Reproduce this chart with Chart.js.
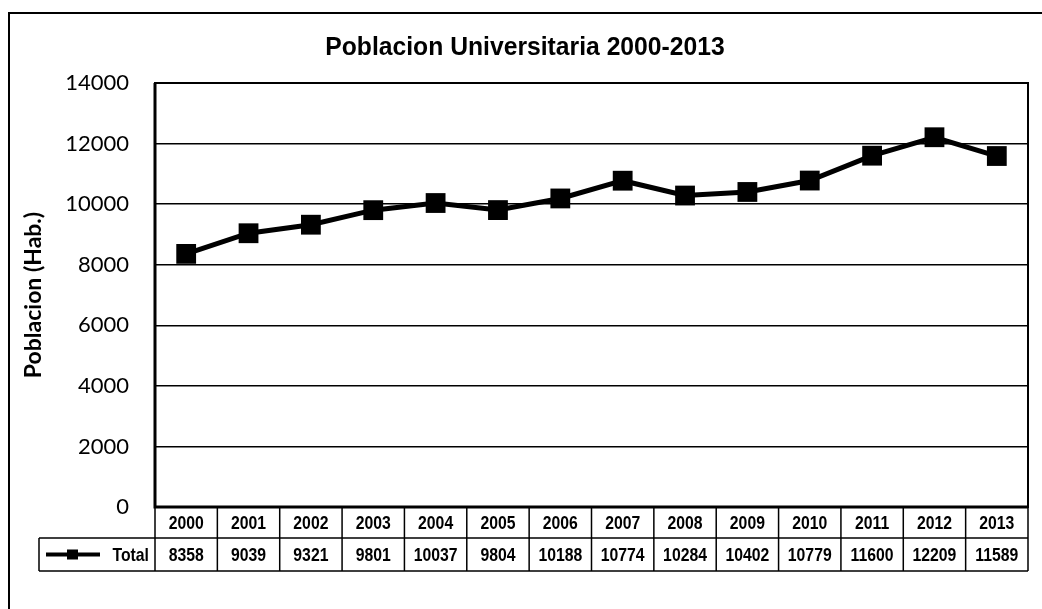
<!DOCTYPE html>
<html>
<head>
<meta charset="utf-8">
<title>Poblacion Universitaria 2000-2013</title>
<script src="https://cdn.jsdelivr.net/npm/chart.js@4/dist/chart.umd.min.js"></script>
<style>
    html, body { margin: 0; padding: 0; background: #fff; }
    #wrap { width: 1042px; height: 609px; position: relative; }
</style>
</head>
<body>
<div id="wrap"><canvas id="poblacionChart" width="1042" height="609"></canvas></div>
<script>
// datos de poblacion universitaria por año
const years = ['2000', '2001', '2002', '2003', '2004', '2005', '2006', '2007', '2008', '2009', '2010', '2011', '2012', '2013'];
const totals = [8358, 9039, 9321, 9801, 10037, 9804, 10188, 10774, 10284, 10402, 10779, 11600, 12209, 11589];
const yTicks = [0, 2000, 4000, 6000, 8000, 10000, 12000, 14000];
const seriesName = 'Total';
const chartTitle = 'Poblacion Universitaria 2000-2013';
const yTitle = 'Poblacion (Hab.)';

const boldSans = '"Liberation Sans", Arial, sans-serif';

// texto angosto: se escala en x para simular una fuente condensada
function narrowText(ctx, text, x, y, size, squeeze, align) {
    ctx.save();
    ctx.font = 'bold ' + size + 'px ' + boldSans;
    ctx.textAlign = align || 'center';
    ctx.textBaseline = 'middle';
    ctx.translate(x, y);
    ctx.scale(squeeze, 1);
    ctx.fillText(text, 0, 0);
    ctx.restore();
}

// marco exterior + titulo
const framePlugin = {
    id: 'frame',
    beforeDraw(chart) {
        const ctx = chart.ctx;
        ctx.save();
        ctx.strokeStyle = '#000';
        ctx.lineWidth = 2;
        ctx.beginPath();
        ctx.moveTo(9, 609);
        ctx.lineTo(9, 13);
        ctx.lineTo(1042, 13);
        ctx.stroke();
        ctx.fillStyle = '#000';
        narrowText(ctx, chartTitle, 525, 48, 26, 0.95);
        ctx.restore();
    },
    afterDatasetsDraw(chart) {
        // borde del area de grafico
        const { ctx, chartArea: a } = chart;
        ctx.save();
        ctx.strokeStyle = '#000';
        ctx.lineWidth = 2;
        ctx.strokeRect(a.left, a.top, a.right - a.left, a.bottom - a.top);
        ctx.lineWidth = 3;
        ctx.beginPath();
        ctx.moveTo(a.left, a.top);
        ctx.lineTo(a.left, a.bottom);
        ctx.lineTo(a.right, a.bottom);
        ctx.stroke();
        ctx.restore();
    }
};

// tabla de datos bajo el eje x
const dataTablePlugin = {
    id: 'dataTable',
    afterDraw(chart) {
        const ctx = chart.ctx;
        const x = chart.scales.x;
        const a = chart.chartArea;
        const colW = (a.right - a.left) / years.length;
        const top = a.bottom;
        const mid = top + 31;
        const bottom = mid + 33;
        const legendLeft = 39;

        ctx.save();
        ctx.strokeStyle = '#000';
        ctx.lineWidth = 1.5;

        ctx.beginPath();
        ctx.moveTo(a.left, top); ctx.lineTo(a.right, top);
        ctx.moveTo(legendLeft, mid); ctx.lineTo(a.right, mid);
        ctx.moveTo(legendLeft, bottom); ctx.lineTo(a.right, bottom);
        ctx.moveTo(legendLeft, mid); ctx.lineTo(legendLeft, bottom);
        for (let i = 0; i <= years.length; i++) {
            const cx = a.left + i * colW;
            ctx.moveTo(cx, top); ctx.lineTo(cx, bottom);
        }
        ctx.stroke();

        ctx.fillStyle = '#000';
        years.forEach((yr, i) => {
            const cx = x.getPixelForValue(i);
            narrowText(ctx, yr, cx, (top + mid) / 2 + 1, 19, 0.83);
            narrowText(ctx, String(totals[i]), cx, (mid + bottom) / 2 + 1, 19, 0.83);
        });

        // leyenda: linea con marcador cuadrado
        const ly = (mid + bottom) / 2;
        ctx.lineWidth = 4;
        ctx.beginPath();
        ctx.moveTo(46, ly); ctx.lineTo(100, ly);
        ctx.stroke();
        ctx.fillRect(67, ly - 5, 11, 10);
        narrowText(ctx, seriesName, a.left - 6, ly + 1, 19, 0.83, 'right');
        ctx.restore();
    }
};

const ctx = document.getElementById('poblacionChart').getContext('2d');
new Chart(ctx, {
    type: 'line',
    data: {
        labels: years,
        datasets: [{
            label: seriesName,
            data: totals,
            borderColor: '#000',
            backgroundColor: '#000',
            borderWidth: 5,
            tension: 0,
            pointStyle: 'rect',
            pointRadius: 14,
            pointHoverRadius: 14,
            pointBackgroundColor: '#000',
            pointBorderColor: '#000',
            pointBorderWidth: 0
        }]
    },
    options: {
        responsive: false,
        animation: false,
        layout: { padding: { left: 0, top: 83, right: 8, bottom: 102 } },
        plugins: {
            legend: { display: false },
            title: { display: false },
            tooltip: { enabled: false }
        },
        scales: {
            x: {
                type: 'category',
                offset: true,
                display: false,
                grid: { display: false }
            },
            y: {
                min: 0,
                max: 14000,
                afterFit(scale) { scale.width = 155; },
                afterBuildTicks(scale) { scale.ticks = yTicks.map(v => ({ value: v })); },
                border: { display: false },
                grid: { color: '#000', lineWidth: 1.5, drawTicks: false },
                ticks: {
                    color: '#000',
                    padding: 26,
                    callback: (val) => String(val),
                    font: { family: 'Lato, "Open Sans", sans-serif', size: 22 }
                },
                title: {
                    display: true,
                    text: yTitle,
                    color: '#000',
                    padding: { top: 20, bottom: 0 },
                    font: { family: 'Lato, "Open Sans", sans-serif', size: 23, weight: 'bold' }
                }
            }
        }
    },
    plugins: [framePlugin, dataTablePlugin]
});
</script>
</body>
</html>
